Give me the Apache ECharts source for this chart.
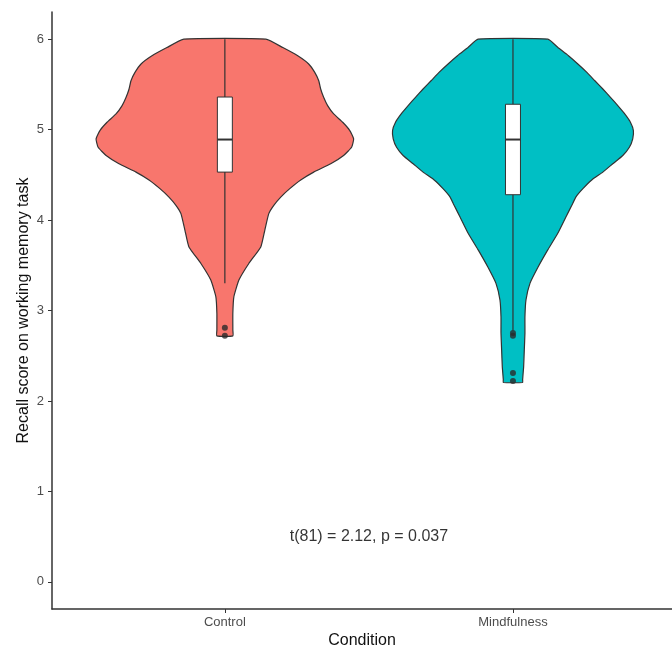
<!DOCTYPE html>
<html><head><meta charset="utf-8">
<script src="https://cdn.jsdelivr.net/npm/echarts@6/dist/echarts.min.js"></script>
<style>html,body{margin:0;padding:0;background:#fff}#c{width:672px;height:648px}</style>
</head><body><div id="c"></div>
<script>
// ---- data ----
const categories = ['Control', 'Mindfulness'];
const yTicks = [0, 1, 2, 3, 4, 5, 6];

// violin outlines: score values and relative density (1 = widest violin)
const controlY = [6.0, 5.907, 5.816, 5.725, 5.632, 5.540, 5.449, 5.357, 5.265, 5.173, 5.081, 4.992, 4.898, 4.805, 4.714, 4.622, 4.530, 4.443, 4.347, 4.254, 4.163, 4.071, 3.887, 3.703, 3.520, 3.336, 3.152, 2.969, 2.785, 2.719];
const controlDensity = [0.318, 0.450, 0.566, 0.651, 0.698, 0.729, 0.744, 0.767, 0.798, 0.845, 0.915, 0.969, 1.0, 0.984, 0.922, 0.822, 0.690, 0.589, 0.504, 0.434, 0.380, 0.341, 0.310, 0.279, 0.186, 0.109, 0.070, 0.062, 0.062, 0.062];

const mindY = [6.0, 5.908, 5.816, 5.725, 5.632, 5.540, 5.449, 5.357, 5.265, 5.173, 5.081, 4.990, 4.898, 4.805, 4.714, 4.622, 4.530, 4.443, 4.347, 4.254, 4.163, 4.034, 3.851, 3.667, 3.483, 3.300, 3.116, 2.932, 2.749, 2.565, 2.381, 2.234, 2.204];
const mindDensity = [0.271, 0.349, 0.431, 0.504, 0.574, 0.636, 0.698, 0.757, 0.814, 0.868, 0.912, 0.935, 0.930, 0.904, 0.853, 0.775, 0.698, 0.612, 0.543, 0.488, 0.457, 0.411, 0.347, 0.269, 0.196, 0.132, 0.101, 0.093, 0.093, 0.088, 0.083, 0.075, 0.075];

// box stats: lower whisker, Q1, median, Q3, upper whisker
const controlBox = [3.30, 4.53, 4.89, 5.36, 6.00];
const mindBox = [2.78, 4.28, 4.89, 5.28, 6.00];
const controlOutliers = [2.81, 2.72];
const mindOutliers = [2.75, 2.72, 2.31, 2.22];

const annotationText = 't(81) = 2.12, p = 0.037';
const annotationPos = [1.5, 0.5];

// ---- chart ----
const violinY = [controlY, mindY];
const violinD = [controlDensity, mindDensity];
const fills = ['#F8766D', '#00BFC4'];
const VIOLIN_HALF = 0.447;
const BOX_HALF = 0.026;
const ink = '#333333';

const chart = echarts.init(document.getElementById('c'), null, {renderer: 'canvas'});

const outlierData = [];
controlOutliers.forEach(v => outlierData.push([1, v]));
mindOutliers.forEach(v => outlierData.push([2, v]));

chart.setOption({
  animation: false,
  backgroundColor: '#fff',
  grid: {left: 52, right: 0, top: 12, bottom: 39, containLabel: false, outerBoundsMode: 'none'},
  xAxis: {
    type: 'value', min: 0.4, max: 2.552,
    name: 'Condition', nameLocation: 'middle', nameGap: 24, nameMoveOverlap: false,
    nameTextStyle: {fontFamily: 'Liberation Sans', fontSize: 16, color: '#111'},
    splitLine: {show: false},
    axisLine: {show: true, onZero: false, lineStyle: {color: ink, width: 1.5}},
    axisTick: {show: true, length: 4, lineStyle: {color: ink}, customValues: [1, 2]},
    axisLabel: {show: true, margin: 7, fontFamily: 'Liberation Sans', fontSize: 13, color: '#4d4d4d',
      customValues: [1, 2], formatter: v => categories[Math.round(v) - 1] || ''}
  },
  yAxis: {
    type: 'value', min: -0.3, max: 6.3,
    name: 'Recall score on working memory task', nameLocation: 'middle', nameGap: 20, nameRotate: 90,
    nameMoveOverlap: false,
    nameTextStyle: {fontFamily: 'Liberation Sans', fontSize: 16, color: '#111'},
    splitLine: {show: false},
    axisLine: {show: true, onZero: false, lineStyle: {color: ink, width: 1.5}},
    axisTick: {show: true, length: 4, lineStyle: {color: ink}, customValues: yTicks},
    axisLabel: {show: true, margin: 8, fontFamily: 'Liberation Sans', fontSize: 13, color: '#4d4d4d',
      customValues: yTicks}
  },
  series: [
    {
      type: 'custom', name: 'violin', z: 2,
      data: [[1], [2]],
      renderItem: function (params, api) {
        const i = params.dataIndex;
        const c = api.value(0);
        const ys = violinY[i], ds = violinD[i];
        const pts = [];
        for (let k = 0; k < ys.length; k++) pts.push(api.coord([c - ds[k] * VIOLIN_HALF, ys[k]]));
        for (let k = ys.length - 1; k >= 0; k--) pts.push(api.coord([c + ds[k] * VIOLIN_HALF, ys[k]]));
        return {
          type: 'polygon',
          shape: {points: pts, smooth: 0.15},
          style: {fill: fills[i], stroke: '#333', lineWidth: 1.2}
        };
      }
    },
    {
      type: 'custom', name: 'box', z: 3,
      data: [[1].concat(controlBox), [2].concat(mindBox)],
      renderItem: function (params, api) {
        const c = api.value(0);
        const lo = api.value(1), q1 = api.value(2), med = api.value(3), q3 = api.value(4), hi = api.value(5);
        const pLo = api.coord([c, lo]), pHi = api.coord([c, hi]);
        const a = api.coord([c - BOX_HALF, q3]), b = api.coord([c + BOX_HALF, q1]);
        const m1 = api.coord([c - BOX_HALF, med]), m2 = api.coord([c + BOX_HALF, med]);
        return {
          type: 'group',
          children: [
            {type: 'line', shape: {x1: pLo[0], y1: pLo[1], x2: pHi[0], y2: pHi[1]}, style: {stroke: ink, lineWidth: 1.2}},
            {type: 'rect', shape: {x: a[0], y: a[1], width: b[0] - a[0], height: b[1] - a[1]}, style: {fill: '#fff', stroke: ink, lineWidth: 1}},
            {type: 'line', shape: {x1: m1[0], y1: m1[1], x2: m2[0], y2: m2[1]}, style: {stroke: ink, lineWidth: 2}}
          ]
        };
      }
    },
    {
      type: 'scatter', name: 'outliers', z: 4,
      data: outlierData, symbolSize: 6,
      itemStyle: {color: '#2b2b2b'}
    },
    {
      type: 'scatter', name: 'annotation', z: 5,
      data: [annotationPos], symbolSize: 0,
      label: {show: true, position: 'inside', formatter: annotationText,
        fontFamily: 'Liberation Sans', fontSize: 16, color: '#000'}
    }
  ]
});
</script>
</body></html>
